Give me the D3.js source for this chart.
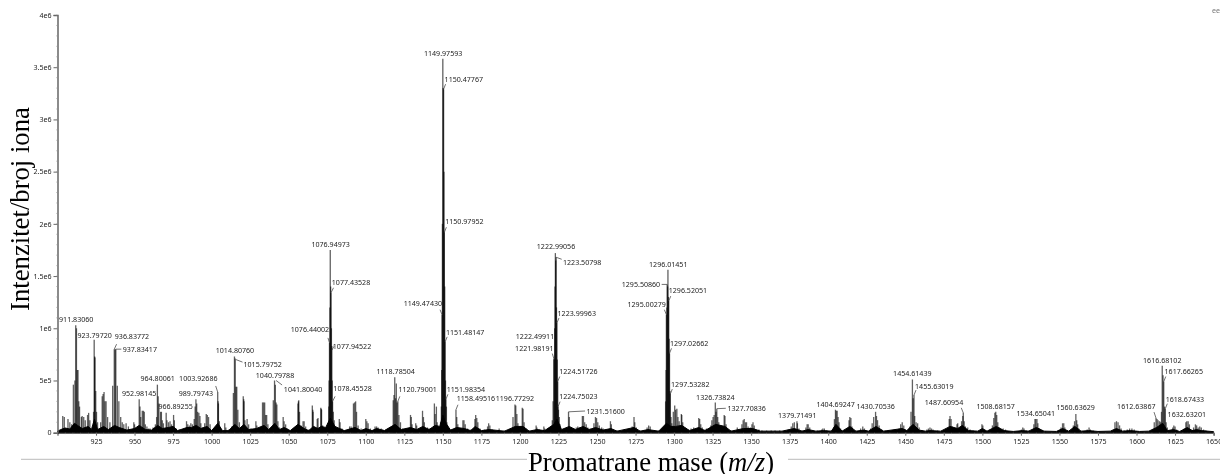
<!DOCTYPE html>
<html>
<head>
<meta charset="utf-8">
<script src="https://cdn.jsdelivr.net/npm/d3@7"></script>
<style>
html, body { margin: 0; padding: 0; background: #fff; }
svg { display: block; filter: blur(0.45px); }
.small { font-family: "Noto Sans", sans-serif; font-size: 7.1px; fill: #222; }
.title { font-family: "Liberation Serif", serif; font-size: 26.7px; fill: #000; }
</style>
</head>
<body>
<script>
'use strict';
// every intensity below is in units of 1e5 counts
const unit = 1e5;

const sticks0900 = [[903.4,1.6],[904.4,1.5],[906.8,1.3],[908,1.0],[909.2,.8],[910.3,4.6],[911.3,5],[911.83,10.3],[912.3,10],[912.8,6],[913.3,6],[913.8,3],[914.3,2.5],[915.5,1.5],[916,1.6],[917,1.5],[918,1.2],[919.5,1.7],[920.2,1.9],[921,1.2],[923.4,2],[923.8,8.9],[924.1,7.3],[924.3,7.2],[924.8,4],[925.3,2],[926,1],[928,1],[929,3.5],[929.6,3.7],[930.2,3.9],[930.8,3],[931.5,3],[932.5,1.5],[934,1],[935.8,4.5],[936.83,8],[937.4,8],[937.83,8],[938.8,4.5],[939.8,3],[941,1.5],[942,1],[943,.8],[944.5,.9],[946,.6],[949.5,1],[950,.8],[953,3.2],[953.5,2.5],[954,1.5],[955,2.1],[955.7,2.1],[956.3,2],[957,.8],[958,.6],[959,.4],[960,.4],[962,.5],[963.5,.8],[964.3,1.5],[964.8,4.6],[965.3,3.5],[965.8,2.8],[966.89,2],[967.4,2],[968,1.2],[968.7,.9],[970.5,1.9],[971,1.2],[972,1],[973,1.1],[974,.8],[975.3,1.7],[975.8,1.2],[977,.4],[979,.3],[981,.2],[983.7,1.1],[984.5,.8],[985.5,.7],[986.5,.9],[987.5,.8],[988.7,1.3],[989.3,2.5],[989.8,3.2],[990.3,2.8],[990.9,2],[991.7,1.9],[992.4,1.6],[993,.9],[994,.5],[995.5,.9],[996.5,1.8],[997.2,1.7],[998,1.5],[999,.8]];
const sticks1000 = [[1000.5,.3],[1002,.2],[1003.3,.6],[1003.93,3.9],[1004.2,3],[1004.4,2.8],[1005,1.1],[1006,.3],[1008.5,.9],[1009.2,.5],[1011,.3],[1013,.6],[1014.1,3.8],[1014.8,7.3],[1015.3,7.1],[1015.8,4.4],[1016.3,4.4],[1017,2.2],[1018,1],[1020.5,3.5],[1020.8,3.2],[1021,3],[1021.6,1.2],[1023,1.3],[1024,.8],[1025.5,.4],[1028.7,1.1],[1029.3,.7],[1033,2.9],[1033.7,2.9],[1034.4,2.9],[1035,1.7],[1035.7,1.7],[1036.5,.8],[1037.5,.4],[1040,3.1],[1040.8,5],[1041.3,4.6],[1041.8,2.9],[1042.3,2.7],[1043,1.1],[1044,.5],[1046.4,1.5],[1047,1.1],[1048,.8],[1049,.4],[1052,.2],[1056,2.8],[1056.3,3],[1056.5,3.1],[1057,2],[1058,.7],[1059.3,1.1],[1060,1.1],[1061,.6],[1063,.3],[1065.3,2.6],[1065.6,2.2],[1065.8,2],[1066.5,.6],[1068.5,1.3],[1069,1.4],[1069.8,.5],[1070.8,2.4],[1071.1,2.3],[1071.3,2.2],[1072,.7],[1074,.3],[1075.4,.9],[1076,2.5],[1076.2,5],[1076.44,8.6],[1076.7,12],[1076.95,17.5],[1077.2,14],[1077.44,13.4],[1077.7,10],[1077.95,8.3],[1078.2,5],[1078.45,3],[1078.9,2],[1079.5,1.2],[1080,.6],[1082.8,1.3],[1083.3,1],[1084.5,.4],[1087,.2],[1089.5,.6],[1090.5,.6],[1092,2.8],[1092.7,2.9],[1093.4,3],[1094,2],[1095,.7],[1097,.4],[1098,.3],[1100,1.3],[1100.7,1.1],[1101.5,.9],[1103,.4],[1106,.6],[1107,.6],[1108,.5],[1110,.4],[1111,.3],[1117.8,3.1],[1118.3,3.6],[1118.78,5.3],[1119.3,3.3],[1119.8,4.7],[1120.3,2.9],[1120.8,3],[1121.5,1.7],[1122.5,1],[1124,.4],[1127,.2],[1129,1.7],[1129.5,1.5],[1130,.8],[1132.4,.9],[1133,.7],[1136.8,2.1],[1137.4,1.5],[1138,1],[1140,.5],[1141,.4],[1144.5,2.8],[1145,1.8],[1145.8,2.5],[1146.3,1],[1147.5,.4],[1148.5,1],[1149,2.5],[1149.25,6],[1149.47,11.3],[1149.7,20],[1149.97,35.8],[1150.2,33],[1150.48,32.9],[1150.7,25],[1150.98,19.2],[1151.2,14],[1151.48,8.7],[1151.7,5],[1151.98,3.2],[1152.3,2.5],[1152.6,1],[1153,.7],[1156,.3],[1158.5,2.2],[1159,1.5],[1159.7,.8],[1161,.4],[1163,1.2],[1163.7,1.2],[1164.5,.8],[1166,.4],[1168,.3],[1170.8,1.3],[1171.3,1.7],[1172,1.4],[1172.7,1],[1174,.4],[1177,.3],[1179,.6],[1179.7,.9],[1180.5,.7],[1182,.3],[1186.5,.4],[1190,.2],[1194,.2],[1195.5,1.5],[1196.77,2.7],[1197.3,2.6],[1198,1.8],[1198.7,.9],[1199.5,.5]];
const sticks1200 = [[1201.5,2.4],[1202,2.3],[1202.7,1],[1204,.4],[1206,.2],[1210.5,.7],[1211,.5],[1212.5,.3],[1215.5,.6],[1216,.4],[1218,.2],[1220.5,.5],[1221,1.2],[1221.5,3],[1221.98,7.1],[1222.2,7],[1222.5,10],[1222.75,14],[1222.99,17.2],[1223.2,16.5],[1223.51,16.8],[1223.7,12],[1223.99,10.5],[1224.2,7],[1224.52,4.9],[1224.75,2.5],[1225,2.2],[1225.5,1.5],[1226,.8],[1227.5,.3],[1231.52,2],[1232,1.5],[1233,.4],[1235,.4],[1236.5,.5],[1237.5,.6],[1238.5,.5],[1240.5,1.6],[1241.2,1.6],[1242,1],[1243,.8],[1244,.5],[1245.5,.4],[1248,.9],[1249,1.5],[1249.7,1.4],[1250.5,1],[1251.5,.7],[1253,.5],[1254,.4],[1255.5,.3],[1258.7,1.1],[1259.3,.8],[1260.5,.3],[1263,.2],[1265,.2],[1268,.2],[1270,.3],[1272.8,.6],[1274,1.5],[1274.5,1],[1275.5,.5],[1278,.2],[1281,.2],[1282.5,.5],[1283.5,.7],[1284.5,.6],[1286,.2],[1290,.2],[1293,.2],[1294,.5],[1294.5,3],[1294.8,6],[1295,11.3],[1295.3,12],[1295.51,14.2],[1295.8,14],[1296.01,15.6],[1296.3,13],[1296.52,12.6],[1296.8,9],[1297.03,7.6],[1297.3,4],[1297.53,3.7],[1298,1.5],[1298.5,.9],[1299.5,2],[1300.4,2.6],[1301,2.2],[1301.8,2.3],[1302.5,1.5],[1303.3,1.1],[1304.7,1.8],[1305,1.7],[1305.6,1],[1307,.5],[1308,.4],[1309.5,.3],[1311,.4],[1312.7,.5],[1313.5,.3],[1316,1.4],[1316.6,1.3],[1317.3,.8],[1318.3,.5],[1320,.3],[1321,.4],[1322.5,.3],[1323.8,.7],[1324.5,1.2],[1325.3,1.5],[1326,1.7],[1326.74,2.9],[1327.2,2],[1327.7,2.3],[1328.3,1.5],[1329,1],[1330,.5],[1331,.4],[1332.5,1.7],[1333,1.6],[1333.7,.8],[1335,.3],[1337,.2],[1339,.2],[1341,.5],[1342,.3],[1344,.8],[1344.8,1.2],[1345.5,1.3],[1346.3,1],[1347,1],[1348,.6],[1349.5,.5],[1350.5,.8],[1351.2,1],[1352,.7],[1353,.3],[1355,.3],[1357,.2],[1360,.2],[1363,.2],[1365.5,.2],[1368.5,.2],[1372,.2],[1374,.3],[1376,.6],[1377,.9],[1378,1],[1379.71,1.1],[1380,.9],[1381,.4],[1383,.2],[1385.5,.5],[1386.3,.8],[1387,.8],[1388,.5],[1390,.2],[1393,.2],[1395.8,.3],[1396.5,.4],[1397.5,.4],[1399,.2]];
const sticks1400 = [[1402,.2],[1403.5,.5],[1404,1.3],[1404.69,2.2],[1405.2,2.1],[1405.8,2.1],[1406.4,1.5],[1407,1],[1408,.4],[1409.5,.2],[1412,.3],[1413.5,1.2],[1414,1.5],[1414.7,1.4],[1415.4,.6],[1417,.2],[1421,.4],[1422.4,.6],[1423.5,.4],[1425,.2],[1427.5,.4],[1428.5,.9],[1429.5,1.5],[1430.71,2],[1431.3,1.6],[1432,1.2],[1433,.7],[1434,.3],[1437,.2],[1440,.2],[1444,.2],[1446,.4],[1447,.8],[1448,1],[1449,.7],[1450,.3],[1453,.6],[1453.7,2],[1454.61,5.1],[1455.1,3.3],[1455.63,3.6],[1456.1,1.6],[1457,1],[1458,.9],[1459,.5],[1461,.2],[1464,.3],[1465,.4],[1466,.5],[1467,.4],[1468,.3],[1471,.2],[1478.5,1.3],[1479,1.6],[1479.7,1.3],[1480.5,.6],[1482,.3],[1483.5,.8],[1484,.9],[1485,.5],[1486.5,1.1],[1487.3,1.6],[1487.61,1.9],[1488.2,1.1],[1489,.6],[1490.5,.5],[1492,.3],[1494,.2],[1499.7,.8],[1500.3,.7],[1501,.2],[1505,.3],[1506.5,.7],[1507.4,1.4],[1508.1,1.9],[1508.68,2],[1509.3,1.7],[1510,1],[1511,.5],[1512,.4],[1513.5,.4],[1515,.3],[1517,.1],[1521,.1],[1525.3,.3],[1526.2,.5],[1527,.4],[1528.5,.2],[1530,.2],[1532.5,.3],[1533.4,.8],[1534.1,1.3],[1534.65,1.3],[1535.4,1.3],[1536,.9],[1537,.4],[1538.5,.2],[1541,.15],[1545,.1],[1551,.5],[1552,.9],[1552.8,.9],[1553.5,.5],[1554.5,.2],[1558,.3],[1559,.7],[1559.8,1.1],[1560.64,1.8],[1561.2,1.2],[1561.8,.8],[1562.5,.4],[1565,.15],[1568,.3],[1569.2,.5],[1570,.3],[1572,.2],[1576,.1],[1580,.1],[1585,.3],[1586,1],[1587,1.1],[1588,1],[1589,.7],[1590,.4],[1592,.2],[1594,.3],[1595.5,.4],[1597,.4],[1598.5,.3],[1600,.15],[1604,.1],[1610.5,.3],[1611.5,1],[1612.64,1.4],[1613.3,1.3],[1614,1.2],[1615,1.1],[1615.7,1],[1616.2,2],[1616.68,6.4],[1617.2,5.5],[1617.66,4.9],[1618.2,2.5],[1618.67,2.3],[1619.2,1],[1620,.5],[1622,.2],[1623.5,.5],[1624.2,.7],[1625,.6],[1626,.3],[1628,.1],[1631,.4],[1632,1],[1632.63,1.1],[1633.5,1.1],[1634.3,.8],[1635.5,.3],[1637,.5],[1638.2,.8],[1639,.7],[1640,.5],[1641,.6],[1642,.5],[1643.5,.3],[1645,.2],[1647,.1],[1649,.05]];

// dark mass that fills the foot of the spectrum
const floorLine = [[900,.15],[903,.35],[905,.45],[908,.35],[911,.9],[913,.7],[916,.4],[920,.6],[922,.3],[924,1.3],[926,.3],[930,.6],[933,.3],[937,.7],[940,.5],[945,.25],[950,.4],[953,.7],[957,.3],[961,.25],[965,.7],[968,.4],[972,.5],[975,.6],[978,.2],[984,.5],[987,.5],[990,.7],[993,.4],[997,.6],[1000,.2],[1004,.9],[1007,.2],[1011,.2],[1015,.8],[1018,.4],[1021,.8],[1024,.3],[1029,.4],[1034,.7],[1037,.3],[1041,.9],[1044,.3],[1047,.5],[1051,.2],[1056,.8],[1060,.4],[1063,.2],[1066,.6],[1069,.4],[1071,.6],[1074,.5],[1077,1.4],[1080,.6],[1083,.4],[1086,.2],[1093,.5],[1097,.2],[1100,.4],[1104,.2],[1107,.4],[1112,.2],[1119,.8],[1123,.3],[1129,.5],[1133,.3],[1137,.6],[1141,.3],[1145,.7],[1148,.6],[1150,1.7],[1152,.9],[1155,.25],[1159,.5],[1164,.4],[1168,.2],[1171,.6],[1175,.2],[1180,.3],[1190,.15],[1197,.6],[1202,.6],[1206,.15],[1211,.3],[1216,.2],[1222,.8],[1224,1.3],[1227,.3],[1232,.6],[1236,.3],[1241,.6],[1245,.3],[1249,.5],[1254,.25],[1259,.4],[1263,.15],[1274,.5],[1278,.15],[1283,.3],[1290,.15],[1295,.9],[1298,.6],[1301,.6],[1305,.7],[1310,.2],[1316,.5],[1320,.2],[1327,.8],[1333,.6],[1337,.15],[1345,.4],[1351,.4],[1356,.15],[1370,.15],[1378,.4],[1383,.15],[1387,.3],[1392,.15],[1397,.2],[1402,.15],[1405,.8],[1409,.15],[1414,.6],[1418,.15],[1423,.25],[1426,.15],[1431,.6],[1436,.15],[1448,.4],[1451,.2],[1455,.8],[1459,.25],[1463,.15],[1466,.2],[1473,.15],[1479,.6],[1484,.4],[1487,.7],[1491,.2],[1497,.15],[1500,.4],[1503,.15],[1509,.6],[1514,.2],[1520,.12],[1526,.2],[1530,.15],[1535,.5],[1540,.15],[1548,.12],[1552,.4],[1556,.15],[1560,.6],[1564,.15],[1569,.2],[1575,.12],[1583,.15],[1587,.4],[1591,.15],[1596,.2],[1602,.12],[1608,.15],[1613,.5],[1617,.9],[1620,.2],[1624,.3],[1628,.12],[1633,.5],[1636,.2],[1639,.3],[1642,.2],[1650,.1]];

const labelNames = ["911.83060","923.79720","936.83772","937.83417","952.98145","964.80061","966.89255","989.79743","1003.92686","1014.80760","1015.79752","1040.79788","1041.80040","1076.94973","1077.43528","1076.44002","1077.94522","1078.45528","1118.78504","1120.79001","1149.97593","1150.47767","1150.97952","1149.47430","1151.48147","1151.98354","1158.49516","1196.77292","1222.99056","1223.50798","1223.99963","1222.49911","1221.98191","1224.51726","1224.75023","1231.51600","1296.01451","1295.50860","1296.52051","1295.00279","1297.02662","1297.53282","1326.73824","1327.70836","1379.71491","1404.69247","1430.70536","1454.61439","1455.63019","1487.60954","1508.68157","1534.65041","1560.63629","1612.63867","1616.68102","1617.66265","1618.67433","1632.63201"];
const labelHeights = [10.3,8.9,8,8,3.2,4.6,2,3.2,3.9,7.3,7,5,5,17.5,13.4,8.6,7.9,3,5.3,3,35.8,32.9,19.2,11.3,8.7,3.2,2.2,2.7,17.2,16.8,10.5,9,7.1,4.9,2.5,2,15.6,14.2,12.6,11.3,7.6,3.7,2.9,2.3,1.1,2.2,2,5.1,3.6,1.9,2,1.3,1.8,1.4,6.4,4.9,2.3,1.1];

// layout only: label offset from its peak, and where the leader line ends [dx, dy, leaderDx, leaderDy]
const labelOffsets = [[.5,-6,0,0],[.5,-5,0,0],[17.7,-12.9,2.3,-5],[24,0,5.5,0],[0,-6,0,0],[.3,-6.4,0,0],[15,-6,0,0],[0,-6,0,0],[-19.4,-14.3,-2,-6],[.5,-6.5,0,0],[26.7,4.4,6.5,2.5],[.5,-5.8,0,0],[27,9,6,4.5],[.4,-6.3,0,0],[20,-10.8,2.5,-5],[-19.5,-13.6,-1.5,-5],[20.2,-4.7,2.3,-4],[20,-13,2.5,-5],[.9,-6,0,0],[19.8,-12,2,-5],[.3,-5.6,0,0],[20.2,-10.3,2,-5],[20,-11.4,2,-5],[-19.2,-11.4,-2,-5],[20,-10.3,2,-5],[20,-10,2,-5],[20,-11.3,2,-5],[0,-6.5,0,0],[.6,-7,0,0],[26,4.7,5.5,2],[19.8,-10.3,2,-5],[-19.6,-3,0,0],[-19.5,-10.3,-1.5,-5],[20.7,-10.7,2,-5],[20.3,-10.4,2,-5],[37.2,-1.1,16.5,-.8],[.3,-6,0,0],[-26.2,-.1,-5.5,0],[19.2,-10.7,2,-5],[-19.7,-10.7,-2,-5],[19.7,-10.4,2,-5],[20,-9.6,2,-5],[0,-5.3,0,0],[29.9,-.4,9,-.4],[.3,-5.9,0,0],[.2,-5.4,0,0],[.1,-5.8,0,0],[-.1,-6,0,0],[20.3,-9.3,2,-5],[-19.3,-10.4,-2,-5],[-.1,-6,0,0],[0,-5.8,0,0],[-.2,-6.9,0,0],[-19.7,-12,-2,-6],[0,-6,0,0],[20,-10.4,2,-5],[19.6,-9.6,2,-5],[0,-6.9,0,0]];

const xMajor = d3.range(925, 1651, 25);
const xMinor = d3.range(900, 1651, 5);
const yMajor = [0, 5e5, 1e6, 1.5e6, 2e6, 2.5e6, 3e6, 3.5e6, 4e6];
const yMajorLabels = ["0", "5e5", "1e6", "1.5e6", "2e6", "2.5e6", "3e6", "3.5e6", "4e6"];
const yMinor = d3.range(0, 4000001, 1e5);

const width = 1220, height = 474;
const svg = d3.select("body").append("svg")
	.attr("width", width)
	.attr("height", height);

const x = d3.scaleLinear().domain([900, 1650]).range([57.5, 1213.6]);
const y = d3.scaleLinear().domain([0, 4e6]).range([432.7, 15]);

// spectrum
const sticks = sticks0900.concat(sticks1000, sticks1200, sticks1400);
svg.append("g").selectAll("line")
	.data(sticks)
	.enter().append("line")
		.attr("x1", function(d){return x(d[0]);})
		.attr("x2", function(d){return x(d[0]);})
		.attr("y1", y(0))
		.attr("y2", function(d){return y(d[1]*unit);})
		.attr("stroke", "#000")
		.attr("stroke-opacity", 0.62)
		.attr("stroke-width", 1.3);

const foot = d3.area()
	.x(function(d){return x(d[0]);})
	.y0(y(0))
	.y1(function(d){return y(d[1]*unit);});
svg.append("path")
	.datum(floorLine)
	.attr("d", foot)
	.attr("fill", "#000")
	.attr("stroke", "#000")
	.attr("stroke-width", 1);

// axes
const yAxis = svg.append("g")
	.attr("transform", "translate(" + x.range()[0] + ",0)")
	.call(d3.axisLeft(y).tickValues(yMajor).tickSize(4).tickPadding(2)
		.tickFormat(function(d,i){return yMajorLabels[i];}));
yAxis.selectAll("text").attr("class", "small").attr("font-size", null).attr("font-family", null);
yAxis.select(".domain").attr("stroke", "#666").attr("stroke-width", 1.5);
yAxis.selectAll(".tick line").attr("stroke", "#666");

svg.append("g").selectAll("line")
	.data(yMinor)
	.enter().append("line")
		.attr("x1", x.range()[0] - 1.5)
		.attr("x2", x.range()[0])
		.attr("y1", function(d){return y(d);})
		.attr("y2", function(d){return y(d);})
		.attr("stroke", "#999")
		.attr("stroke-width", 0.5);

const xAxis = svg.append("g")
	.attr("transform", "translate(0," + y(0) + ")")
	.call(d3.axisBottom(x).tickValues(xMajor).tickSize(3).tickPadding(3)
		.tickFormat(d3.format("d")));
xAxis.selectAll("text").attr("class", "small").attr("font-size", null).attr("font-family", null);
xAxis.select(".domain").attr("stroke", "#333").attr("stroke-width", 1);
xAxis.selectAll(".tick line").attr("stroke", "#666");

svg.append("g").selectAll("line")
	.data(xMinor)
	.enter().append("line")
		.attr("x1", function(d){return x(d);})
		.attr("x2", function(d){return x(d);})
		.attr("y1", y(0))
		.attr("y2", y(0) + 1.5)
		.attr("stroke", "#888")
		.attr("stroke-width", 0.5);

// peak labels and their leaders
const labels = labelNames.map(function(name,i){
	const o = labelOffsets[i];
	return {name: name, px: x(+name), py: y(labelHeights[i]*unit), dx: o[0], dy: o[1], lx: o[2], ly: o[3]};
});
svg.append("g").selectAll("line")
	.data(labels.filter(function(d){return d.lx !== 0;}))
	.enter().append("line")
		.attr("x1", function(d){return d.px;})
		.attr("y1", function(d){return d.py;})
		.attr("x2", function(d){return d.px + d.lx;})
		.attr("y2", function(d){return d.py + d.ly;})
		.attr("stroke", "#333")
		.attr("stroke-width", 0.7);
svg.append("g").selectAll("text")
	.data(labels)
	.enter().append("text")
		.attr("class", "small")
		.attr("text-anchor", "middle")
		.attr("dominant-baseline", "central")
		.attr("x", function(d){return d.px + d.dx;})
		.attr("y", function(d){return d.py + d.dy;})
		.text(function(d){return d.name;});

svg.append("text")
	.attr("class", "small")
	.attr("x", 1212)
	.attr("y", 13)
	.style("fill", "#777")
	.text("ee");

// titles
svg.append("text")
	.attr("class", "title")
	.attr("text-anchor", "middle")
	.attr("transform", "translate(29,209) rotate(-90)")
	.text("Intenzitet/broj iona");

const xTitle = svg.append("text")
	.attr("class", "title")
	.attr("text-anchor", "middle")
	.attr("x", 651)
	.attr("y", 471);
xTitle.append("tspan").text("Promatrane mase (");
xTitle.append("tspan").attr("font-style", "italic").text("m/z");
xTitle.append("tspan").text(")");

// grey rule broken by the title
svg.append("g").selectAll("line")
	.data([[21, 527], [788, 1220]])
	.enter().append("line")
		.attr("x1", function(d){return d[0];})
		.attr("x2", function(d){return d[1];})
		.attr("y1", 459.3)
		.attr("y2", 459.3)
		.attr("stroke", "#bbb")
		.attr("stroke-width", 1);
</script>
</body>
</html>
